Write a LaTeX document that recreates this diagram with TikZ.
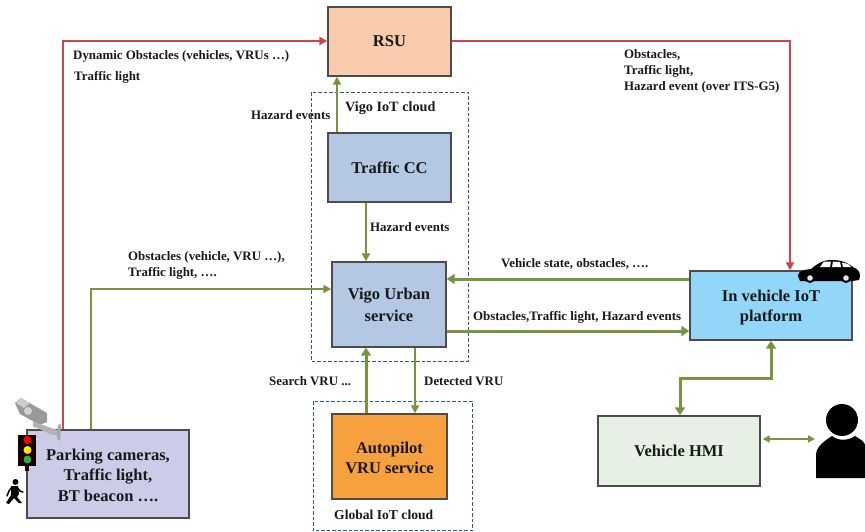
\documentclass[tikz,border=0pt]{standalone}
\usepackage{fontspec}
\setmainfont{Liberation Serif}
\usetikzlibrary{arrows.meta}
\definecolor{gline}{HTML}{76953C}
\definecolor{rline}{HTML}{C8474A}
\definecolor{dashb}{HTML}{2F5597}
\tikzset{
 x=1pt,y=-1pt,
 box/.style={draw=black!70,line width=1.4pt,inner sep=0pt,align=center,font=\fontsize{16.5}{20.5}\selectfont\bfseries,text=black!90},
 lab/.style={inner sep=0pt,align=left,anchor=west,font=\fontsize{12.9}{16}\selectfont\bfseries,text=black!90},
 cloud/.style={draw=dashb,line width=0.9pt,dash pattern=on 3.5pt off 2pt},
 gthin/.style={draw=gline,line width=2.1pt,-{Triangle[length=8pt,width=8pt]}},
 gboth/.style={draw=gline,line width=3pt,{Triangle[length=8pt,width=10pt]}-{Triangle[length=8pt,width=10pt]}},
 gthick/.style={draw=gline,line width=3pt,-{Triangle[length=8pt,width=10pt]}},
 rthin/.style={draw=rline,line width=2.1pt,-{Triangle[length=8pt,width=8pt]}},
}
\begin{document}
\begin{tikzpicture}
\useasboundingbox (0,0) rectangle (865,531);
% clouds
\draw[cloud] (311,92) rectangle (468,361);
\draw[cloud] (313,401) rectangle (472,530.5);
% boxes
\node[box,fill={rgb,255:red,248;green,203;blue,173},minimum width=123pt,minimum height=69pt] (rsu) at (389.5,41.5) {RSU};
\node[box,fill={rgb,255:red,180;green,199;blue,227},minimum width=123pt,minimum height=69pt] (cc) at (389.5,167.5) {Traffic CC};
\node[box,fill={rgb,255:red,180;green,199;blue,227},minimum width=114pt,minimum height=85pt] (vigo) at (389,304.5) {Vigo Urban\\[1.5pt]service};
\node[box,fill={rgb,255:red,246;green,160;blue,64},minimum width=115pt,minimum height=85pt] (auto) at (389.5,456.5) {\rule{0pt}{14pt}Autopilot\\VRU service};
\node[box,fill={rgb,255:red,146;green,215;blue,247},minimum width=162pt,minimum height=69pt] (iot) at (771,305.5) {\rule{0pt}{15.5pt}In vehicle IoT\\platform};
\node[box,fill={rgb,255:red,230;green,240;blue,228},minimum width=162pt,minimum height=70pt] (hmi) at (679,451) {Vehicle HMI};
\node[box,fill={rgb,255:red,204;green,204;blue,232},minimum width=162pt,minimum height=88pt] (park) at (108,474) {\rule{0pt}{14pt}Parking cameras,\\Traffic light,\\BT beacon ….};
% rails
\coordinate (xr1) at (63,0);
\coordinate (xg1) at (91,0);
\coordinate (yr) at (0,41);
\coordinate (yg) at (0,289);
\coordinate (xr2) at (790,0);
\coordinate (xcc) at (337,0);
\coordinate (xup) at (366,0);
\coordinate (xdn) at (415,0);
\coordinate (y1) at (0,279);
\coordinate (y2) at (0,331);
\coordinate (xh) at (680,0);
\coordinate (xi) at (771,0);
\coordinate (ym) at (0,378);
\coordinate (personL) at (815,439);
% connectors
\draw[rthin] (xr1 |- park.north) -- (xr1 |- yr) -- (rsu.west |- yr);
\draw[rthin] (rsu.east |- yr) -- (xr2 |- yr) -- (xr2 |- iot.north);
\draw[gthin] (xg1 |- park.north) -- (xg1 |- yg) -- (vigo.west |- yg);
\draw[gthin] (xcc |- cc.north) -- (xcc |- rsu.south);
\draw[gthin] (xup |- cc.south) -- (xup |- vigo.north);
\draw[gthick] (iot.west |- y1) -- (vigo.east |- y1);
\draw[gthick] (vigo.east |- y2) -- (iot.west |- y2);
\draw[gthick] (xup |- auto.north) -- (xup |- vigo.south);
\draw[gthin] (xdn |- vigo.south) -- (xdn |- auto.north);
\draw[gboth] (xh |- hmi.north) -- (xh |- ym) -- (xi |- ym) -- (xi |- iot.south);
\draw[draw=gline,line width=1.8pt,{Triangle[length=7pt,width=7pt]}-{Triangle[length=7pt,width=7pt]}] (hmi.east |- personL) ++(2,0) -- (personL);
% labels
\node[lab] (l1) at (73,56) {Dynamic Obstacles (vehicles, VRUs …)};
\node[lab] (l2) at (74,77) {Traffic light};
\node[lab] (l3) at (624,71) {Obstacles,\\Traffic light,\\Hazard event (over ITS-G5)};
\node[lab] (l4) at (251,115) {Hazard events};
\node[lab,font=\fontsize{14.2}{16}\selectfont\bfseries] (l5) at (345,108) {Vigo IoT cloud};
\node[lab] (l6) at (370,227) {Hazard events};
\node[lab] (l7) at (128,265) {Obstacles (vehicle, VRU …),\\Traffic light, ….};
\node[lab] (l8) at (501,264) {Vehicle state, obstacles, ….};
\node[lab] (l9) at (473,317) {Obstacles,Traffic light, Hazard events};
\node[lab] (l10) at (269,381) {Search VRU ...};
\node[lab] (l11) at (424,381) {Detected VRU};
\node[lab,font=\fontsize{13.6}{16}\selectfont\bfseries] (l12) at (334,515) {Global IoT cloud};
% person
\fill[black] (842,420) circle (16);
\fill[black] (816,478) -- (816,455) .. controls (816,447) and (824,441) .. (832,436) .. controls (838,441) and (848,441) .. (855,436) .. controls (860,439) and (865,442) .. (865,445) -- (865,478) -- cycle;
% car
\fill[black] (798,276) .. controls (798,271) and (803,270) .. (811,269) .. controls (817,264) and (822,260) .. (832,260) .. controls (842,260) and (848,263) .. (853,267) .. controls (858,269) and (860,272) .. (860,276) -- (859,280) -- (852,281) -- (800,281) -- cycle;
\fill[white] (820,267) -- (824,261.5) -- (831,261.5) -- (830,267) -- cycle;
\fill[white] (832,267) -- (833,261.5) -- (840,262) -- (841,267) -- cycle;
\fill[white] (843,267) -- (842,262.5) -- (848,264) -- (851,267) -- cycle;
\fill[black] (810,278) circle (5);
\fill[gray!20] (810,278) circle (2.8);
\fill[black] (846,278) circle (5);
\fill[gray!20] (846,278) circle (2.8);
% camera
\fill[gray!80] (15,403) -- (21,398) -- (47,413) -- (47,422) -- (40,425) -- (20,414) -- cycle;
\fill[gray!40] (16,403) -- (21,398) -- (30,403) -- (24,408) -- cycle;
\fill[gray!35] (28,411) circle (4);
\fill[gray!60] (33,421) -- (40,425) -- (38,428) -- (33,427) -- cycle;
\fill[gray!60] (33,426) -- (40,424) -- (60,431) -- (60,436) -- (50,434) -- cycle;
\fill[gray!70] (58,425) -- (61,424) -- (60,441) -- (57,438) -- cycle;
% traffic light
\fill[black!90!red] (18,435) rectangle (36,466);
\fill[black!90!red] (25,466) rectangle (29,471);
\fill[red] (27.5,440) circle (4);
\fill[yellow!90!orange] (27.5,450) circle (4);
\fill[green!60!black!80!white] (27.5,459.5) circle (4);
% pedestrian
\fill[black] (15.5,482) circle (3);
\fill[black] (11,486) -- (18,486) -- (19,494) -- (17,497) -- (22,503) -- (19,503) -- (14,498) -- (9,504) -- (6,503) -- (11,495) -- cycle;
\draw[black,line width=1.5pt,line cap=round] (17,487) -- (20,491) -- (23,492);
\draw[black,line width=1.5pt,line cap=round] (12,487) -- (9,491) -- (7,496);
\end{tikzpicture}
\end{document}
